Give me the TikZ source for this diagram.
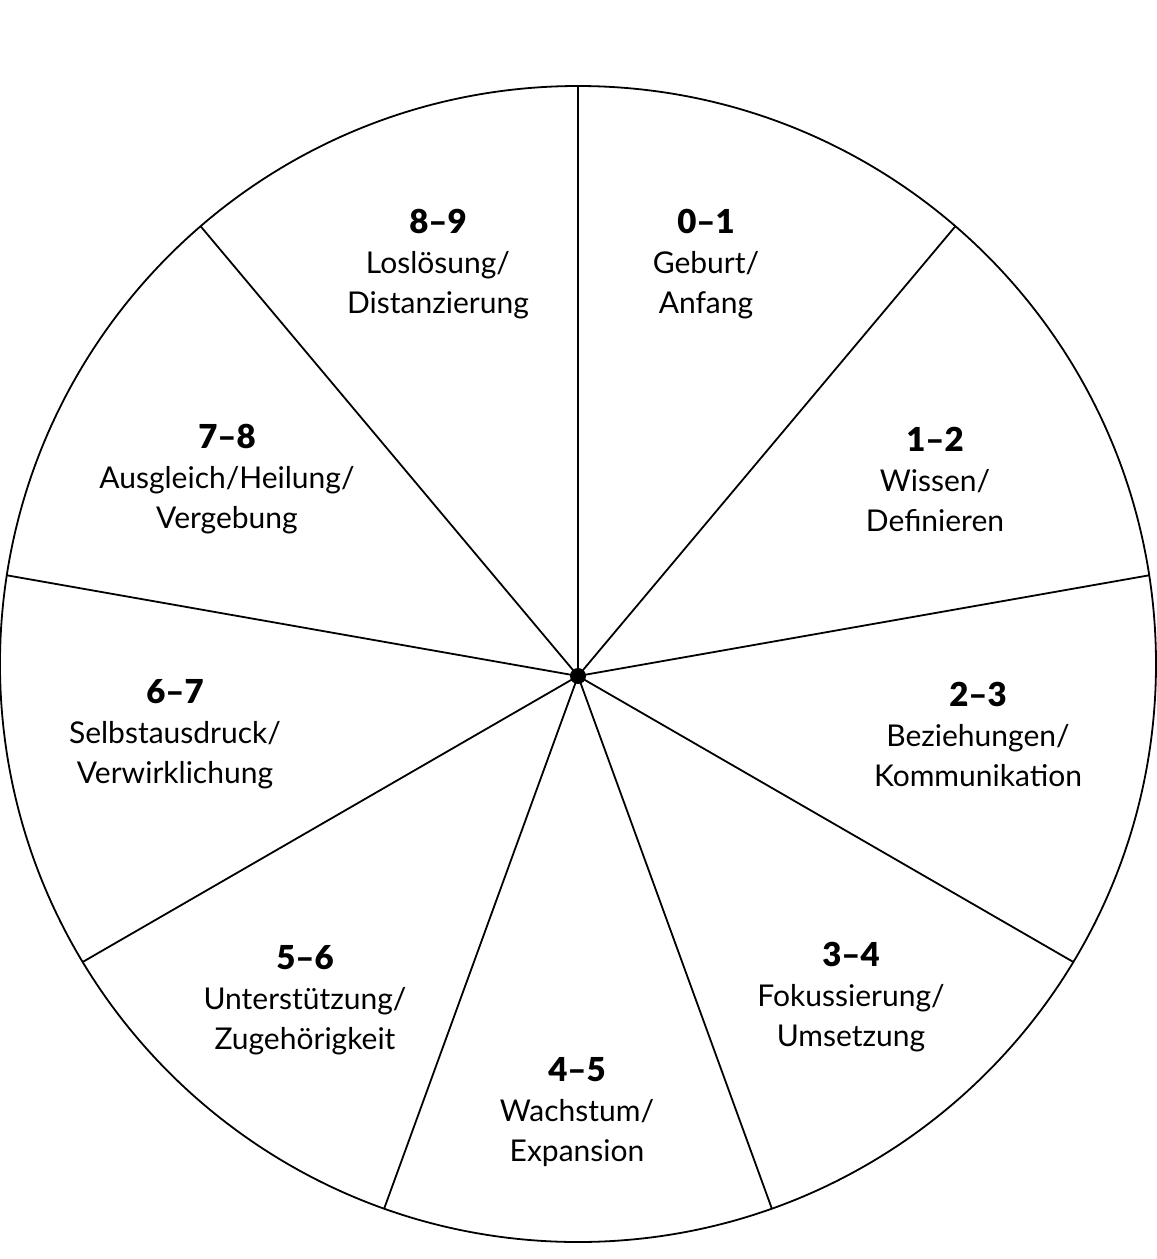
\documentclass[tikz,border=0pt]{standalone}
\usepackage{fontspec}
\setmainfont{Lato}
\newfontfamily\numfont{Lato Black}[Ligatures=TeX]
\usepackage{tikz}
\usetikzlibrary{positioning}

\newcommand{\num}[1]{{\numfont\fontsize{33}{40}\selectfont #1}}

\begin{document}
\begin{tikzpicture}[x=1pt,y=-1pt,line width=1.8pt,
    every node/.style={align=center,font=\fontsize{30}{40}\selectfont}]
  \useasboundingbox (0,0) rectangle (1157,1259);
  \coordinate (M) at (578,664);
  \coordinate (Z) at (578,676);
  \draw (M) circle[radius=578pt];
  \begin{scope}
    \clip (M) circle[radius=578pt];
    \foreach \a in {90,50,...,-230}
      \draw (Z) -- ++(\a:800pt);
  \end{scope}
  \fill (Z) circle[radius=8pt];
  \node (P01) at (706,264) {\num{0–1}\\Geburt/\\Anfang};
  \node (P12) at (935,479) {\num{1–2}\\Wissen/\\Definieren};
  \node (P23) at (978,734) {\num{2–3}\\Beziehungen/\\Kommunikation};
  \node (P34) at (851,997) {\num{3–4}\\Fokussierung/\\Umsetzung};
  \node (P45) at (577,1112) {\num{4–5}\\Wachstum/\\Expansion};
  \node (P56) at (305,1000) {\num{5–6}\\Unterstützung/\\Zugehörigkeit};
  \node (P67) at (175,734) {\num{6–7}\\Selbstausdruck/\\Verwirklichung};
  \node (P78) at (227,479) {\num{7–8}\\Ausgleich/Heilung/\\Vergebung};
  \node (P89) at (438,264) {\num{8–9}\\Loslösung/\\Distanzierung};
\end{tikzpicture}
\end{document}
